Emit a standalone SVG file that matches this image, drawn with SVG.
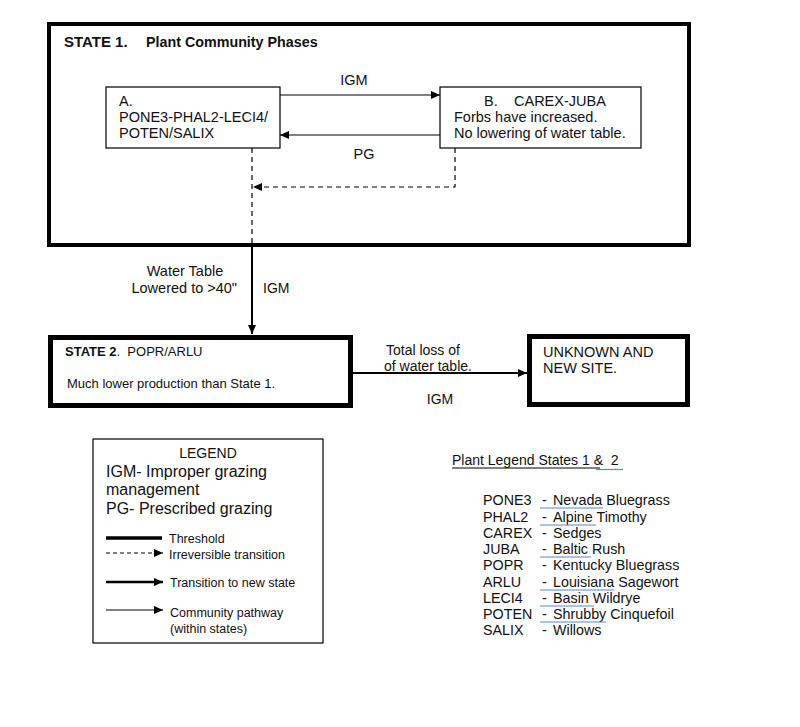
<svg xmlns="http://www.w3.org/2000/svg" width="800" height="727" viewBox="0 0 800 727">
<style>
text{font-family:"Liberation Sans",Arial,sans-serif;fill:#111;white-space:pre}
.box{fill:#fff;stroke:#000}
.thick{stroke-width:4}
.thin{stroke-width:1.2}
.t13{font-size:13px}
.t14{font-size:14px}
.t145{font-size:14.5px}
.t12{font-size:12.5px}
.t16{font-size:16px}
.b{font-weight:bold}
.ln{stroke:#000;fill:none}
.dash{stroke-dasharray:5,4}
.spell{stroke:#5b86c8;stroke-width:1.2;fill:none}
</style>
<defs>
<marker id="ah" markerUnits="userSpaceOnUse" markerWidth="10" markerHeight="10" refX="9" refY="4" orient="auto">
<path d="M0,0 L9,4 L0,8 Z" fill="#000"/>
</marker>
</defs>
<rect width="800" height="727" fill="#fff"/>

<g id="state1">
<rect class="box thick" x="49" y="24" width="640" height="221"/>
<text x="64" y="47" class="b" font-size="15">STATE 1.</text>
<text x="146" y="47" class="b" font-size="14.3">Plant Community Phases</text>
</g>

<g id="phaseA">
<rect class="box thin" x="106" y="87" width="174" height="61"/>
<text x="119" y="106" class="t145">A.</text>
<text x="119" y="122" class="t145">PONE3-PHAL2-LECI4/</text>
<text x="119" y="138" class="t145">POTEN/SALIX</text>
</g>

<g id="phaseB">
<rect class="box thin" x="440" y="87" width="201" height="61"/>
<text x="484" y="106" class="t145">B.</text>
<text x="514" y="106" class="t145">CAREX-JUBA</text>
<text x="454" y="122" class="t145">Forbs have increased.</text>
<text x="454" y="138" class="t145">No lowering of water table.</text>
</g>

<g id="state2">
<rect class="box" stroke-width="5" x="50.5" y="337.5" width="300" height="68"/>
<text x="65" y="356" class="t13"><tspan class="b">STATE 2</tspan>.  POPR/ARLU</text>
<text x="67" y="388" class="t13">Much lower production than State 1.</text>
</g>

<g id="unknown">
<rect class="box" stroke-width="5" x="529.5" y="336.5" width="158" height="68"/>
<text x="543" y="357" class="t145">UNKNOWN AND</text>
<text x="543" y="373" class="t145">NEW SITE.</text>
</g>

<g id="connectors">
<line class="ln" stroke-width="1.2" x1="280" y1="95" x2="440" y2="95" marker-end="url(#ah)"/>
<line class="ln" stroke-width="1.2" x1="440" y1="135" x2="280" y2="135" marker-end="url(#ah)"/>
<text x="354" y="85" class="t145" text-anchor="middle">IGM</text>
<text x="364" y="159" class="t145" text-anchor="middle">PG</text>
<line class="ln dash" stroke-width="1.2" x1="252" y1="148" x2="252" y2="245"/>
<polyline class="ln dash" stroke-width="1.2" points="455,148 455,187 253,187" marker-end="url(#ah)"/>
<line class="ln" stroke-width="2" x1="252" y1="247" x2="252" y2="334" marker-end="url(#ah)"/>
<text x="185" y="276" class="t145" text-anchor="middle">Water Table</text>
<text x="237" y="293" class="t145" text-anchor="end">Lowered to &gt;40"</text>
<text x="263" y="293" class="t14">IGM</text>
<line class="ln" stroke-width="2" x1="353" y1="373" x2="527" y2="373" marker-end="url(#ah)"/>
<text x="386" y="355" class="t14">Total loss of</text>
<text x="384" y="371" class="t14">of water table.</text>
<text x="440" y="404" class="t14" text-anchor="middle">IGM</text>
</g>

<g id="legend">
<rect class="box" stroke-width="1.2" x="93" y="439" width="230" height="204"/>
<text x="208" y="458" class="t14" text-anchor="middle">LEGEND</text>
<text x="106" y="477" class="t16">IGM- Improper grazing</text>
<text x="106" y="495" class="t16">management</text>
<text x="106" y="514" class="t16">PG- Prescribed grazing</text>
<line class="ln" stroke-width="3.5" x1="106" y1="538" x2="162" y2="538"/>
<text x="169" y="543" class="t12">Threshold</text>
<line class="ln" stroke-width="1" stroke-dasharray="4,3" x1="106" y1="553" x2="163" y2="553" marker-end="url(#ah)"/>
<text x="169" y="559" class="t12">Irreversible transition</text>
<line class="ln" stroke-width="2.5" x1="106" y1="582" x2="163" y2="582" marker-end="url(#ah)"/>
<text x="170" y="587" class="t12">Transition to new state</text>
<line class="ln" stroke-width="1.2" x1="106" y1="610" x2="163" y2="610" marker-end="url(#ah)"/>
<text x="170" y="617" class="t12">Community pathway</text>
<text x="170" y="633" class="t12">(within states)</text>
</g>

<g id="plant-legend">
<text x="452" y="465" class="t14">Plant Legend States 1 &amp;  2</text>
<line x1="452" y1="468" x2="600" y2="468" stroke="#000" stroke-width="1"/>
<line x1="596" y1="469.5" x2="623" y2="469.5" class="spell"/>
<g font-size="14.3px">
<text x="483" y="505">PONE3</text><text x="542" y="505">-</text><text x="553" y="505">Nevada Bluegrass</text>
<text x="483" y="522">PHAL2</text><text x="542" y="522">-</text><text x="553" y="522">Alpine Timothy</text>
<text x="483" y="538">CAREX</text><text x="542" y="538">-</text><text x="553" y="538">Sedges</text>
<text x="483" y="554">JUBA</text><text x="542" y="554">-</text><text x="553" y="554">Baltic Rush</text>
<text x="483" y="570">POPR</text><text x="542" y="570">-</text><text x="553" y="570">Kentucky Bluegrass</text>
<text x="483" y="587">ARLU</text><text x="542" y="587">-</text><text x="553" y="587">Louisiana Sagewort</text>
<text x="483" y="603">LECI4</text><text x="542" y="603">-</text><text x="553" y="603">Basin Wildrye</text>
<text x="483" y="619">POTEN</text><text x="542" y="619">-</text><text x="553" y="619">Shrubby Cinquefoil</text>
<text x="483" y="635">SALIX</text><text x="542" y="635">-</text><text x="553" y="635">Willows</text>
</g>
<line class="spell" x1="540" y1="508" x2="603" y2="508"/>
<line class="spell" x1="540" y1="525" x2="596" y2="525"/>
<line class="spell" x1="540" y1="557" x2="591" y2="557"/>
<line class="spell" x1="540" y1="590" x2="614" y2="590"/>
<line class="spell" x1="540" y1="606" x2="594" y2="606"/>
<line class="spell" x1="540" y1="622" x2="606" y2="622"/>
</g>
</svg>
